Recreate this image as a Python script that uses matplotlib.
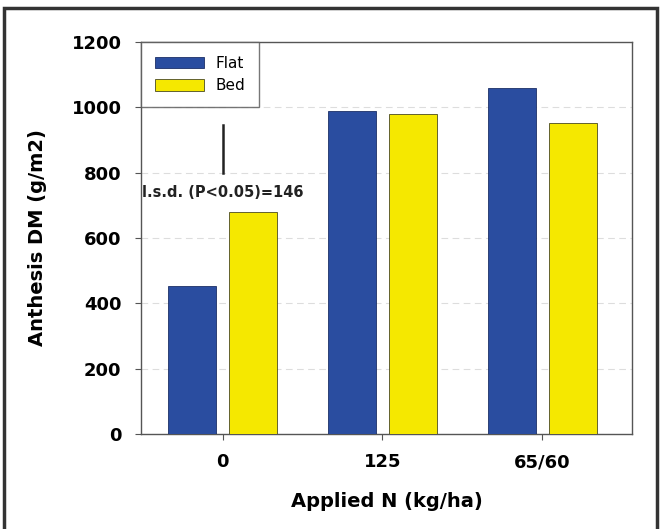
import numpy as np
import matplotlib.pyplot as plt
from matplotlib.patches import Rectangle

categories = ['0', '125', '65/60']
flat = [453, 990, 1060]
bed = [680, 980, 952]
lsd = 146

fig = plt.figure(figsize=(6.61, 5.29), dpi=100)
ax = fig.add_axes([0.2133, 0.1796, 0.7427, 0.741])

x = np.arange(len(categories))
w = 0.3
ax.bar(x - 0.19, flat, w, color='#2a4da0', edgecolor='#1c2f66', linewidth=0.6, label='Flat', zorder=3)
ax.bar(x + 0.19, bed, w, color='#f5e800', edgecolor='#4a4a20', linewidth=0.6, label='Bed', zorder=3)

# l.s.d. bar
ax.plot([0, 0], [800, 800 + lsd], color='#222222', lw=1.8, zorder=4)
ax.text(0, 738, 'l.s.d. (P<0.05)=146', ha='center', va='center',
        fontsize=10.5, fontweight='bold', color='#222222', zorder=4)

ax.set_ylim(0, 1200)
ax.set_xlim(-0.51, 2.56)
ax.set_yticks(range(0, 1201, 200))
ax.set_xticks(x)
ax.set_xticklabels(categories)
ax.tick_params(axis='both', labelsize=13, length=4, width=0.8, color='#555555', pad=10)
for lab in ax.get_xticklabels() + ax.get_yticklabels():
    lab.set_fontweight('bold')
ax.yaxis.grid(True, linestyle=(0, (6, 4)), color='#dddddd', lw=0.8, zorder=0)
for s in ax.spines.values():
    s.set_color('#555555')
    s.set_linewidth(1.0)

ax.set_ylabel('Anthesis DM (g/m2)', fontsize=14, fontweight='bold', labelpad=18)
ax.set_xlabel('Applied N (kg/ha)', fontsize=14, fontweight='bold', labelpad=15)

leg = ax.legend(loc='upper left', fontsize=11, frameon=True, fancybox=False,
                handlelength=3.2, handleheight=0.8, borderaxespad=0, borderpad=0.9,
                labelspacing=0.5, handletextpad=0.8)
leg.get_frame().set_edgecolor('#555555')
leg.get_frame().set_linewidth(1.0)

# outer frame
fig.patches.append(Rectangle((0.006, -0.05), 0.988, 1.035, transform=fig.transFigure,
                             fill=False, edgecolor='#333333', linewidth=2.5))

fig.savefig('out.png', dpi=100)
